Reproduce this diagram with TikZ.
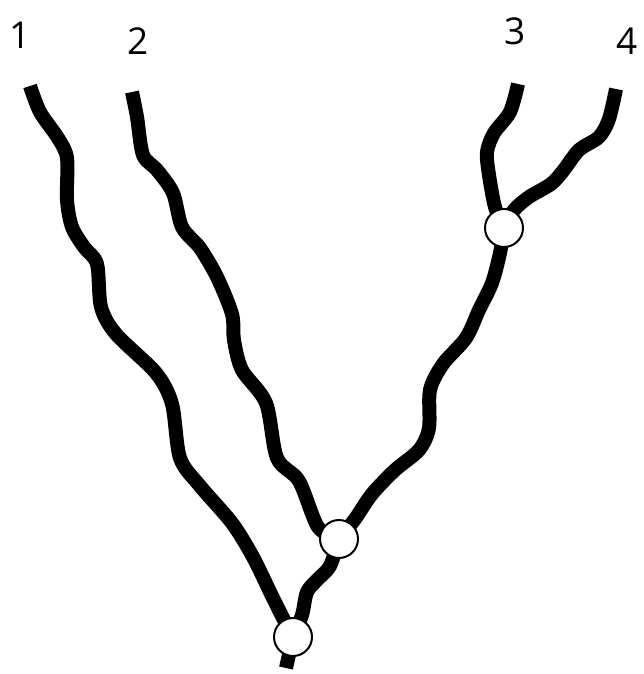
\documentclass[tikz,border=0pt]{standalone}
\usepackage{fontspec}
\newfontfamily\labelfont{Open Sans}
\usetikzlibrary{backgrounds}

\begin{document}
\begin{tikzpicture}[
    x=1pt, y=-1pt,
    every node/.style={align=center},
    junction/.style={circle, draw, line width=2pt, fill=white, minimum size=38pt, inner sep=0pt},
    label/.style={font=\labelfont\fontsize{37}{42}\selectfont, inner sep=0pt},
    river/.style={line width=14pt, line join=round, smooth, tension=0.5}
]
\useasboundingbox (0,0) rectangle (644,674);

% Nodes
\node[junction] (j34) at (504,228) {};
\node[junction] (j2) at (339,539) {};
\node[junction] (j1) at (293,637) {};
\coordinate (src1) at (30,86);
\coordinate (src2) at (132,92);
\coordinate (src3) at (518,84);
\coordinate (src4) at (616,89);
\coordinate (mouth) at (286,668);
\node[label] (l1) at (20,35) {1};
\node[label] (l2) at (138,41) {2};
\node[label] (l3) at (515,31) {3};
\node[label] (l4) at (627,41) {4};

% Connections
\begin{scope}[on background layer]
\draw[river] plot coordinates {(src1) (40,112) (58,138) (67,158) (67,200) (72,227) (84,247) (97,264) (101,307) (116,334) (156,373) (172,404) (180,458) (200,486) (232,523) (253,557) (272,596) (285,622) (j1)};
\draw[river] plot coordinates {(src2) (137,117) (143,155) (157,170) (173,193) (182,227) (200,248) (217,277) (232,314) (234,340) (242,370) (266,403) (277,458) (299,481) (318,527) (j2)};
\draw[river] plot coordinates {(src3) (510,112) (494,133) (487,152) (489,175) (495,207) (j34)};
\draw[river] plot coordinates {(src4) (609,119) (599,137) (579,150) (563,171) (551,184) (529,197) (514,210) (j34)};
\draw[river] plot coordinates {(j34) (500,253) (492,283) (479,310) (466,338) (443,364) (430,390) (429,428) (419,450) (395,470) (372,494) (355,519) (j2)};
\draw[river] plot coordinates {(j2) (330,566) (317,580) (307,592) (302,615) (j1)};
\draw[river] plot coordinates {(j1) (mouth)};
\end{scope}

\end{tikzpicture}
\end{document}
